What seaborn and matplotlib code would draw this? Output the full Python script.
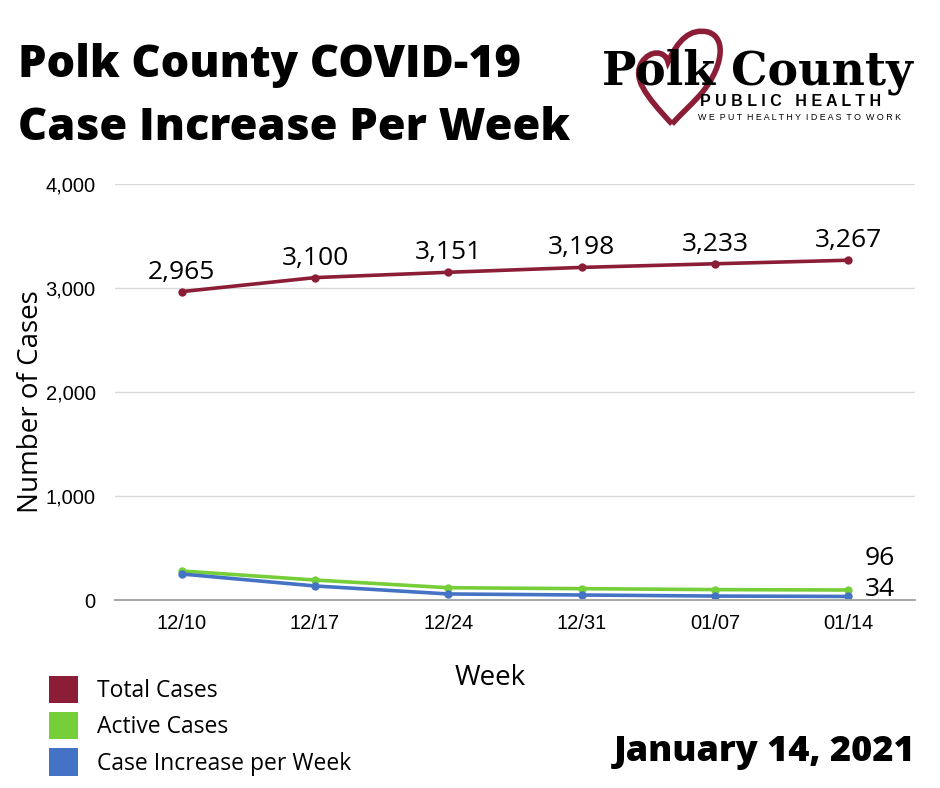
import matplotlib
matplotlib.use("Agg")
import matplotlib.pyplot as plt
from matplotlib.patches import Patch, PathPatch
from matplotlib.path import Path
import seaborn as sns
import pandas as pd

# chart data
weeks = ["12/10", "12/17", "12/24", "12/31", "01/07", "01/14"]
total_cases = [2965, 3100, 3151, 3198, 3233, 3267]
active_cases = [279, 192, 118, 109, 100, 96]
case_increase = [250, 135, 58, 48, 38, 34]
series_names = ["Total Cases", "Active Cases", "Case Increase per Week"]
y_ticks = [0, 1000, 2000, 3000, 4000]

colors = ["#8B1E36", "#76CE38", "#4472C4"]

df = pd.DataFrame({
    "Week": weeks * 3,
    "Cases": total_cases + active_cases + case_increase,
    "Series": [series_names[0]] * 6 + [series_names[1]] * 6 + [series_names[2]] * 6,
})

sns.set_theme(style="white")
plt.rcParams["font.family"] = ["Open Sans", "DejaVu Sans"]
plt.rcParams["text.color"] = "black"
plt.rcParams["axes.labelcolor"] = "black"
plt.rcParams["xtick.color"] = "black"
plt.rcParams["ytick.color"] = "black"

fig = plt.figure(figsize=(9.4, 7.88), dpi=100)
ax = fig.add_axes([115 / 940, 1 - 600 / 788, 800 / 940, 416 / 788])

sns.lineplot(data=df, x="Week", y="Cases", hue="Series", palette=colors,
             hue_order=series_names, marker="o", markersize=6,
             markeredgewidth=0, linewidth=2.6, ax=ax, legend=False, sort=False)

ax.set_xlim(-0.5, len(weeks) - 0.5)
ax.set_ylim(0, 4000)
ax.set_yticks(y_ticks)
ax.set_yticklabels([f"{v:,}" for v in y_ticks], fontsize=14.5, family=["Liberation Sans"])
ax.set_xticks(range(len(weeks)))
ax.set_xticklabels(weeks, fontsize=14.5, family=["Liberation Sans"])
ax.tick_params(axis="y", length=0, pad=14)
ax.tick_params(axis="x", length=0, pad=10)
ax.grid(axis="y", color="#d9d9d9", linewidth=1)
for s in ["top", "right", "left"]:
    ax.spines[s].set_visible(False)
ax.spines["bottom"].set_color("#a6a6a6")
ax.spines["bottom"].set_linewidth(1.4)
ax.set_ylabel("Number of Cases", fontsize=20)
ax.set_xlabel("Week", fontsize=20)
ax.xaxis.set_label_coords((490 - 115) / 800, -0.153)
ax.yaxis.set_label_coords(-0.088, 0.5 - 10 / 416)

# data labels
for i, v in enumerate(total_cases):
    ax.annotate(f"{v:,}", (i, v), xytext=(0, 5), textcoords="offset points",
                ha="center", va="bottom", fontsize=19)
ax.annotate(f"{active_cases[-1]}", (5, active_cases[-1]), xytext=(12, 23),
            textcoords="offset points", ha="left", va="center", fontsize=19)
ax.annotate(f"{case_increase[-1]}", (5, case_increase[-1]), xytext=(12, 5),
            textcoords="offset points", ha="left", va="center", fontsize=19)

# titles
fig.text(18 / 940, 1 - 66 / 788, "Polk County COVID-19", fontsize=32.5,
         fontweight="heavy", ha="left", va="center")
fig.text(18 / 940, 1 - 128 / 788, "Case Increase Per Week", fontsize=32.5,
         fontweight="heavy", ha="left", va="center")
fig.text(915 / 940, 1 - 752 / 788, "January 14, 2021", fontsize=26,
         fontweight="heavy", ha="right", va="center")

# logo: heart outline behind the wordmark
logo_ax = fig.add_axes([600 / 940, 1 - 130 / 788, 320 / 940, 105 / 788])
logo_ax.set_xlim(600, 920)
logo_ax.set_ylim(130, 25)
logo_ax.axis("off")
heart = Path(
    [(672, 124), (645, 95), (632, 78), (642, 62),
     (650, 50), (665, 50), (668, 62),
     (678, 40), (690, 28), (708, 32),
     (728, 38), (722, 70), (700, 95),
     (690, 106), (680, 115), (672, 124)],
    [Path.MOVETO, Path.CURVE4, Path.CURVE4, Path.CURVE4,
     Path.CURVE4, Path.CURVE4, Path.CURVE4,
     Path.CURVE4, Path.CURVE4, Path.CURVE4,
     Path.CURVE4, Path.CURVE4, Path.CURVE4,
     Path.CURVE4, Path.CURVE4, Path.CURVE4])
logo_ax.add_patch(PathPatch(heart, facecolor="none", edgecolor="#8B1E36", linewidth=4))
logo_ax.text(602, 72, "Polk County", fontsize=33, fontweight="bold",
             family=["DejaVu Serif"], ha="left", va="center", color="black")
logo_ax.text(700, 101, "P U B L I C   H E A L T H", fontsize=11.5, fontweight="heavy",
             ha="left", va="center", family=["Liberation Sans"])
logo_ax.text(698, 118, "W E  P U T  H E A L T H Y  I D E A S  T O  W O R K", fontsize=6.4,
             ha="left", va="center", family=["Liberation Sans"])

# legend
handles = [Patch(facecolor=c, edgecolor="none") for c in colors]
fig.legend(handles, series_names, loc="upper left",
           bbox_to_anchor=(28 / 940, 1 - 655 / 788), frameon=False,
           fontsize=16.5, handlelength=1.3, handleheight=1.45,
           labelspacing=0.4, handletextpad=0.8)

fig.savefig("out.png", dpi=100, facecolor="white")
